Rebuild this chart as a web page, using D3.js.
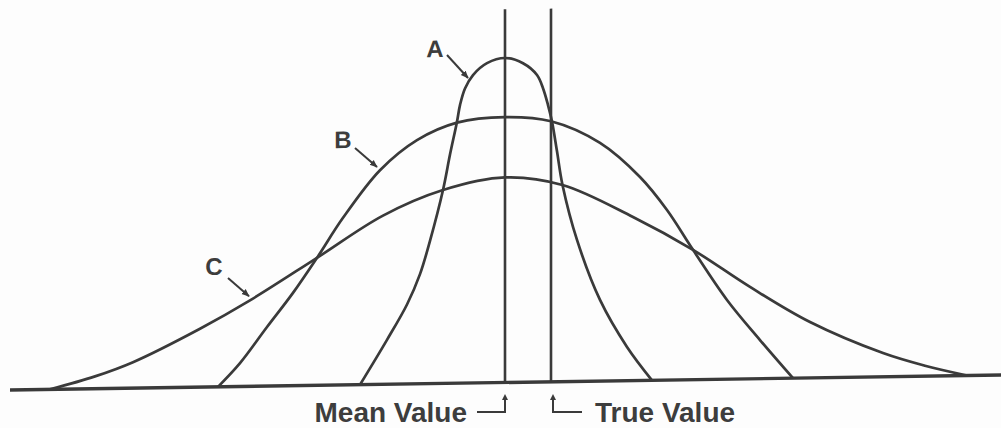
<!DOCTYPE html>
<html>
<head>
<meta charset="utf-8">
<script src="https://cdn.jsdelivr.net/npm/d3@7"></script>
<style>
  html, body { margin: 0; padding: 0; background: #fdfdfd; }
  svg { display: block; }
  text { font-family: "Liberation Sans", Arial, Helvetica, sans-serif; font-weight: bold; fill: #3d3d3d; }
</style>
</head>
<body>
<svg id="chart" width="1001" height="428"></svg>
<script>
// x = distance from the mean value, y = relative frequency (peak of A = 100)
const curveA = [[-14.5, 0], [-11.8, 13.7], [-9.8, 24.5], [-8.5, 33.8], [-7.5, 44.0], [-6.2, 59.6],
  [-5.5, 70.5], [-4.8, 80.6], [-4.5, 85.7], [-4.0, 90.8], [-3.2, 94.9], [-1.8, 98.5], [0, 100],
  [1.8, 98.3], [3.2, 94.6], [3.8, 90.5], [4.3, 85.3], [4.7, 80.2], [5.2, 71], [5.75, 60.6],
  [7.2, 43.6], [9.5, 25.0], [12.2, 10.4], [14.7, 0]];
const curveB = [[-28.7, 0], [-26.5, 7.2], [-23.8, 18.2], [-21.2, 28.6], [-18.8, 39.3], [-16.2, 51.5],
  [-12.5, 66], [-8.8, 75.1], [-4.8, 80.3], [0, 81.8], [4.6, 80.3], [9.5, 73.4], [13.5, 62.7],
  [16.2, 52.4], [18.8, 40.0], [22.2, 24.4], [25.5, 11.9], [28.8, 0]];
const curveC = [[-45.5, 0], [-41, 3.8], [-37.2, 8.0], [-30.5, 18.0], [-25.5, 26.5], [-18.8, 39.3],
  [-12.2, 52.0], [-6.2, 59.6], [0, 63.2], [5.75, 60.6], [12.8, 50.4], [18.8, 40.0], [24.5, 28.3],
  [30.5, 17.2], [37.8, 7.3], [42, 3.2], [46.2, 0]];

const meanValue = 0;
const trueValue = 4.6;
const lineTop = 115;
const baseExtent = [-49.5, 49.8];

// label text, label position, pointer start, pointer end
const curveLabels = [
  { name: 'A', at: [-7.0, 100.6], from: [-5.8, 101.2], to: [-3.7, 94.0] },
  { name: 'B', at: [-16.2, 73.0], from: [-15.0, 73.0], to: [-12.8, 67.0] },
  { name: 'C', at: [-29.1, 34.5], from: [-27.7, 33.5], to: [-25.6, 27.8] }
];

const ink = '#3a3a3a';
const svg = d3.select('#chart');

const xScale = d3.scaleLinear().domain([-50, 50]).range([5, 1005]);
const yScale = d3.scaleLinear().domain([0, 100]).range([382.5, 58]);

svg.append('defs').append('marker')
  .attr('id', 'tip')
  .attr('viewBox', '0 0 10 10')
  .attr('refX', 9).attr('refY', 5)
  .attr('markerWidth', 4).attr('markerHeight', 4)
  .attr('orient', 'auto')
  .append('path')
  .attr('d', 'M0,1 L10,5 L0,9 Z')
  .attr('fill', ink);

// the scanned page sits slightly tilted
const cx = xScale(meanValue);
const plot = svg.append('g')
  .attr('transform', `translate(${cx},0) skewY(-0.867) translate(${-cx},0)`);

const line = d3.line()
  .x(d => xScale(d[0]))
  .y(d => yScale(d[1]))
  .curve(d3.curveCatmullRom.alpha(0.5));

plot.selectAll('path.curve')
  .data([curveA, curveB, curveC])
  .enter()
  .append('path')
  .attr('class', 'curve')
  .attr('fill', 'none')
  .attr('stroke', ink)
  .attr('stroke-width', 2.7)
  .attr('d', line);

plot.append('line')
  .attr('x1', xScale(baseExtent[0])).attr('x2', xScale(baseExtent[1]))
  .attr('y1', yScale(0)).attr('y2', yScale(0))
  .attr('stroke', ink)
  .attr('stroke-width', 3.4);

plot.selectAll('line.marker')
  .data([meanValue, trueValue])
  .enter()
  .append('line')
  .attr('class', 'marker')
  .attr('x1', d => xScale(d)).attr('x2', d => xScale(d))
  .attr('y1', yScale(0)).attr('y2', yScale(lineTop))
  .attr('stroke', ink)
  .attr('stroke-width', 2.6);

plot.selectAll('text.lab')
  .data(curveLabels)
  .enter()
  .append('text')
  .attr('class', 'lab')
  .attr('x', d => xScale(d.at[0]))
  .attr('y', d => yScale(d.at[1]))
  .attr('text-anchor', 'middle')
  .attr('font-size', 24)
  .text(d => d.name);

plot.selectAll('line.pointer')
  .data(curveLabels)
  .enter()
  .append('line')
  .attr('class', 'pointer')
  .attr('x1', d => xScale(d.from[0])).attr('y1', d => yScale(d.from[1]))
  .attr('x2', d => xScale(d.to[0])).attr('y2', d => yScale(d.to[1]))
  .attr('stroke', ink)
  .attr('stroke-width', 2)
  .attr('marker-end', 'url(#tip)');

// bracket labels under the axis
const xm = xScale(meanValue);
const xt = xScale(trueValue) + 2;
const notes = svg.append('g').attr('fill', 'none').attr('stroke', ink).attr('stroke-width', 2);

notes.append('path').attr('d', `M${xm - 28},412 H${xm} V396`);
notes.append('path').attr('d', `M${xt + 29},412 H${xt} V396`);
notes.append('path').attr('d', `M${xm - 3},400 L${xm},394 L${xm + 3},400 Z`).attr('fill', ink).attr('stroke', 'none');
notes.append('path').attr('d', `M${xt - 3},400 L${xt},394 L${xt + 3},400 Z`).attr('fill', ink).attr('stroke', 'none');

svg.append('text')
  .attr('x', xm - 38).attr('y', 422)
  .attr('text-anchor', 'end')
  .attr('font-size', 28)
  .text('Mean Value');

svg.append('text')
  .attr('x', xt + 42).attr('y', 422)
  .attr('text-anchor', 'start')
  .attr('font-size', 28)
  .text('True Value');
</script>
</body>
</html>
